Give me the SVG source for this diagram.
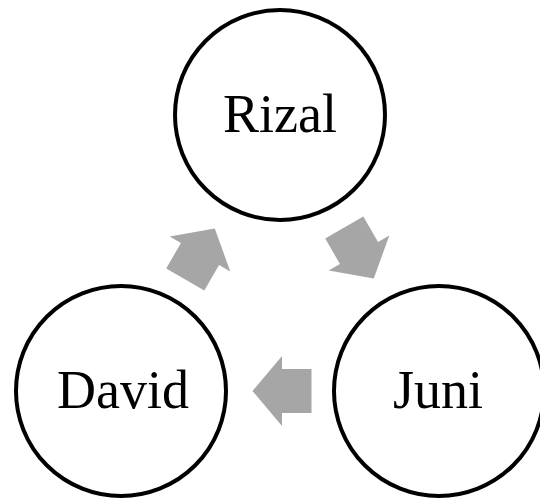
<svg xmlns="http://www.w3.org/2000/svg" width="540" height="499" viewBox="0 0 540 499">
  <defs>
    <style>
      .node circle { fill: #ffffff; stroke: #000000; stroke-width: 4; }
      .node text { font-family: "Liberation Serif", "Times New Roman", serif; font-size: 54px; fill: #000000; text-anchor: middle; }
      .arrow { fill: #a6a6a6; }
    </style>
    <!-- block arrow pointing along +x, centred on the origin -->
    <path id="blockArrow" d="M -29.5,-22 L 0,-22 L 0,-35 L 29.5,0 L 0,35 L 0,22 L -29.5,22 Z"/>
  </defs>
  <rect width="540" height="499" fill="#ffffff"/>

  <g id="connectors">
    <use href="#blockArrow" class="arrow" transform="translate(200,254) rotate(-60)"/>
    <use href="#blockArrow" class="arrow" transform="translate(359,253) rotate(60)"/>
    <use href="#blockArrow" class="arrow" transform="translate(282,391) rotate(180)"/>
  </g>

  <g id="node-rizal" class="node">
    <circle cx="280" cy="115" r="105"/>
    <text x="280" y="132">Rizal</text>
  </g>

  <g id="node-juni" class="node">
    <circle cx="439" cy="391" r="105"/>
    <text x="438" y="408">Juni</text>
  </g>

  <g id="node-david" class="node">
    <circle cx="121" cy="391" r="105"/>
    <text x="123" y="408">David</text>
  </g>
</svg>
